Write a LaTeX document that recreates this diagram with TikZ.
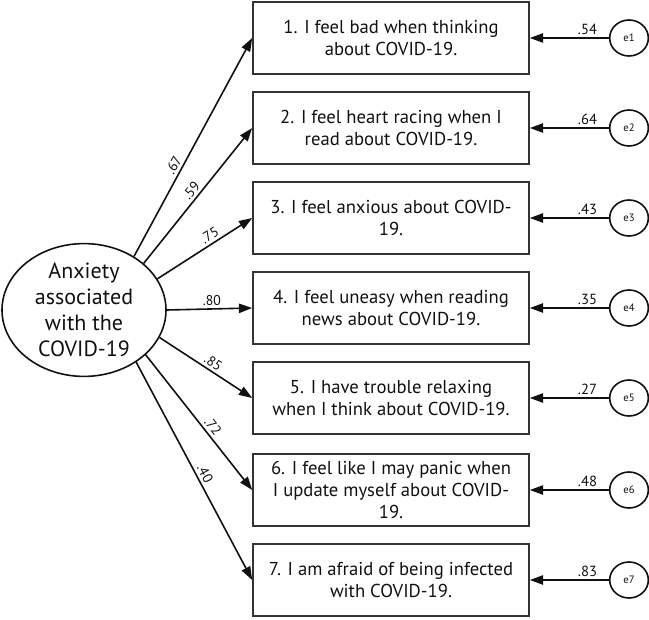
\documentclass[tikz,border=0pt]{standalone}
\usepackage{fontspec}
\setmainfont{PT Sans}
\usetikzlibrary{arrows.meta,shapes.geometric}
\definecolor{pathink}{HTML}{111111}
\definecolor{boxgrey}{HTML}{333333}

\begin{document}
\begin{tikzpicture}[x=0.75pt,y=-0.75pt,>={Triangle[length=10pt,width=7pt]},line width=1.2pt,pathink]
    \useasboundingbox (0,0) rectangle (649,620);

    % latent factor
    \node[ellipse,draw,minimum width=123pt,minimum height=95pt,inner sep=0pt,align=center,
          font=\fontsize{16.5}{19.5}\selectfont] (anx) at (84,310)
          {Anxiety\\associated\\with the\\COVID-19};

    % observed items
    \foreach \i/\y/\txt in {1/38/{1. I feel bad when thinking\\about COVID-19.},
                            2/128/{2. I feel heart racing when I\\read about COVID-19.},
                            3/218/{3. I feel anxious about COVID-\\19.},
                            4/308/{4. I feel uneasy when reading\\news about COVID-19.},
                            5/398/{5. I have trouble relaxing\\when I think about COVID-19.},
                            6/490/{6. I feel like I may panic when\\I update myself about COVID-\\19.},
                            7/580/{7. I am afraid of being infected\\with COVID-19.}}
      \node[draw=boxgrey,minimum width=207pt,minimum height=54pt,inner sep=0pt,align=center,
            font=\fontsize{14}{16.5}\selectfont] (q\i) at (391,\y) {\txt};

    % error terms
    \foreach \i/\y in {1/38,2/128,3/218,4/308,5/398,6/490,7/580}
      \node[ellipse,draw,minimum width=29pt,minimum height=27pt,inner sep=0pt,
            font=\fontsize{8}{9}\selectfont] (e\i) at (629,\y) {e\i};

    % loadings
    \foreach \i/\a/\p/\w in {1/47/0.40/.67, 2/38/0.50/.59, 3/23/0.60/.75, 4/0/0.53/.80,
                             5/340/0.53/.85, 6/324/0.57/.72, 7/315/0.53/.40}
      \draw[->] (anx.\a) -- (q\i.west) node[pos=\p,sloped,above,inner sep=2pt,
            font=\fontsize{10.5}{12}\selectfont] {\w};

    % residuals
    \foreach \i/\w in {1/.54,2/.64,3/.43,4/.35,5/.27,6/.48,7/.83}
      \draw[->] (e\i) -- (q\i.east) node[pos=0.27,above,inner sep=2pt,
            font=\fontsize{11}{12}\selectfont] {\w};
\end{tikzpicture}
\end{document}
